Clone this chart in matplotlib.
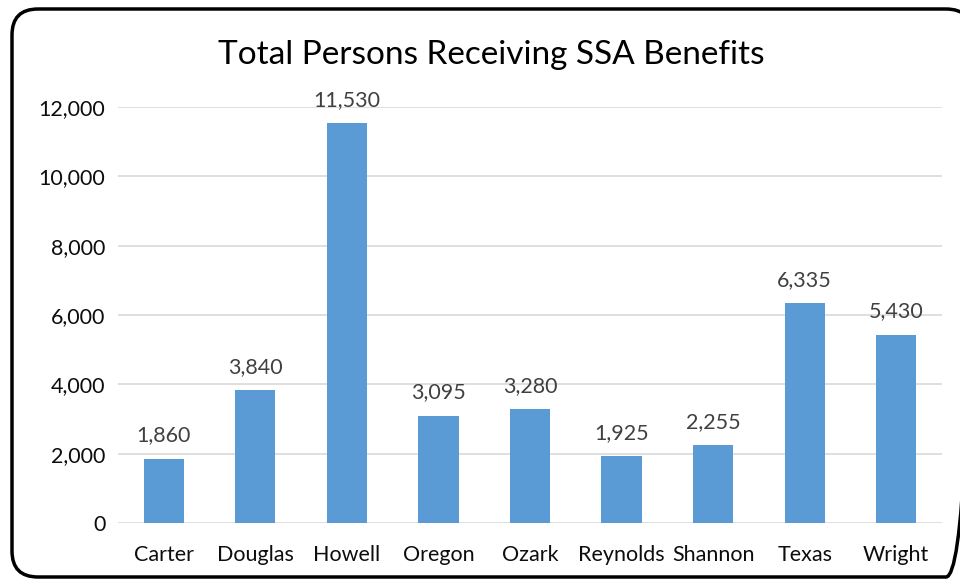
import matplotlib.pyplot as plt
from matplotlib.patches import FancyBboxPatch

counties = ['Carter', 'Douglas', 'Howell', 'Oregon', 'Ozark',
            'Reynolds', 'Shannon', 'Texas', 'Wright']
persons = [1860, 3840, 11530, 3095, 3280, 1925, 2255, 6335, 5430]
yticks = [0, 2000, 4000, 6000, 8000, 10000, 12000]

plt.rcParams['font.family'] = ['Lato', 'DejaVu Sans']

fig = plt.figure(figsize=(9.6, 5.79), dpi=100)

# rounded chart border, drawn in pixel units on a background axes
bg = fig.add_axes([0, 0, 1, 1])
bg.set_xlim(0, 960)
bg.set_ylim(579, 0)
bg.axis('off')
bg.add_patch(FancyBboxPatch((12, 9), 960, 568,
                            boxstyle='round,pad=0,rounding_size=26',
                            facecolor='none', edgecolor='black',
                            linewidth=2.5, clip_on=False))

ax = fig.add_axes([118 / 960, 1 - 523 / 579, 824 / 960, 416 / 579])

x = range(len(counties))
ax.bar(x, persons, width=0.44, color='#5b9bd5', zorder=3)
for xi, v in zip(x, persons):
    ax.text(xi, v + 380, f'{v:,}', ha='center', va='bottom',
            fontsize=15.5, color='#404040', clip_on=False)

ax.set_xlim(-0.5, len(counties) - 0.5)
ax.set_ylim(0, 12000)
ax.set_yticks(yticks)
ax.set_yticklabels([f'{t:,}' for t in yticks], fontsize=15.5, color='#0d0d0d')
ax.set_xticks(list(x))
ax.set_xticklabels(counties, fontsize=15.5, color='#0d0d0d')
ax.tick_params(axis='y', length=0, pad=9)
ax.tick_params(axis='x', length=0, pad=16)
ax.grid(axis='y', color='#d9d9d9', linewidth=1.2, zorder=0)
for s in ax.spines.values():
    s.set_visible(False)

fig.text(491 / 960, 1 - 55 / 579, 'Total Persons Receiving SSA Benefits',
         ha='center', va='center', fontsize=24, color='#000000')

fig.savefig('out.png', dpi=100)
